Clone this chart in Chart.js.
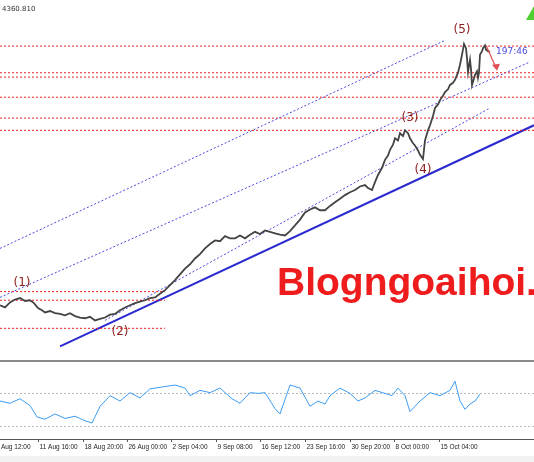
<!DOCTYPE html>
<html><head><meta charset="utf-8">
<script src="https://cdn.jsdelivr.net/npm/chart.js@4"></script>
<style>
body{margin:0;background:#fff;width:534px;height:462px;overflow:hidden;font-family:"DejaVu Sans",sans-serif}
#c1{position:absolute;left:0;top:0}
#c2{position:absolute;left:0;top:363px}
#sep{position:absolute;left:0;top:360px;width:534px;height:2px;background:#8a8a8a}
</style></head><body>
<canvas id="c1" width="534" height="360"></canvas>
<div id="sep"></div>
<canvas id="c2" width="534" height="99"></canvas>
<script>
// bar position and close price
var bars = [0,5,10,15,20,25,30,34,38,42,45,50,55,60,65,70,75,80,85,90,95,100,105,110,115,120,125,130,135,140,145,150,155,160,165,170,175,180,185,190,195,200,205,210,215,220,225,230,235,240,245,250,255,260,265,270,275,280,285,290,295,300,305,310,315,320,325,330,335,340,345,350,355,360,365,368,372,375,378,382,385,388,390,393,395,398,400,403,405,408,410,413,415,418,420,423,425,428,430,433,435,438,440,443,445,448,450,453,455,458,460,462,463,464,466,467,468,469,470,471,472,474,475,477,478,479,480,482,483,485,486,488,490];
var prices = [3947,3944,3951,3955,3957,3953,3954,3950,3943,3940,3937,3939,3936,3935,3933,3936,3932,3930,3929,3931,3926,3928,3930,3934,3935,3940,3944,3947,3950,3952,3954,3957,3958,3963,3968,3975,3982,3990,3998,4004,4012,4018,4026,4032,4037,4036,4043,4040,4040,4044,4040,4045,4049,4046,4051,4049,4047,4045,4044,4050,4058,4066,4076,4080,4083,4079,4079,4085,4090,4095,4100,4104,4107,4112,4114,4110,4107,4118,4128,4138,4149,4155,4163,4170,4179,4176,4186,4182,4190,4186,4179,4172,4169,4162,4156,4150,4176,4190,4197,4210,4221,4226,4232,4238,4243,4247,4253,4256,4260,4270,4281,4295,4302,4310,4304,4290,4271,4280,4288,4275,4253,4262,4267,4272,4263,4270,4295,4300,4304,4308,4302,4300,4299];
// red horizontal levels [price, fromBar, toBar]
var levels = [[4307,0,534],[4270,0,534],[4264,0,534],[4236,0,534],[4207,0,534],[4190,0,534],[3966,0,165],[3954,0,165],[3915,0,165]];
// channel lines [x1,p1,x2,p2,dashed]
var channels = [[0,4026,445,4315,true],[0,3958,530,4285,true],[105,3926,490,4221,true],[60,3890,534,4197,false]];
// wave labels
var waveNames = ["(1)","(2)","(3)","(4)","(5)"];
var waveBars = [22,120,410,423,462];
var wavePrices = [3978,3910,4207,4135,4330];
// oscillator
var oscBars = [0,10,20,30,37,45,55,65,75,85,92,100,110,120,130,140,150,165,175,185,190,200,210,220,232,240,250,258,265,275,280,290,300,310,318,325,330,340,350,358,365,375,385,392,398,405,410,420,430,440,450,455,460,465,470,475,480];
var oscValues = [50,47,53,44,29,26,33,27,30,24,21,43,57,50,61,54,66,69,71,67,57,64,61,67,53,47,61,60,61,40,33,71,67,43,50,46,57,67,60,50,54,64,60,57,67,57,36,50,61,57,64,76,50,39,46,50,59];
var tickBars = [-6,38,83,127,171,216,260,305,350,394,439];
var tickLabels = ["4 Aug 12:00","11 Aug 16:00","18 Aug 20:00","26 Aug 00:00","2 Sep 04:00","9 Sep 08:00","16 Sep 12:00","23 Sep 16:00","30 Sep 20:00","8 Oct 00:00","15 Oct 04:00"];

var ds = [];
ds.push({data: bars.map(function(b,i){return {x:b,y:prices[i]};}), borderColor:'#444', borderWidth:1.8, pointRadius:0, tension:0});
levels.forEach(function(l){
  ds.push({data:[{x:l[1],y:l[0]},{x:l[2],y:l[0]}], borderColor:'#f02020', borderWidth:1, borderDash:[2,2], pointRadius:0});
});
channels.forEach(function(c){
  ds.push({data:[{x:c[0],y:c[1]},{x:c[2],y:c[3]}], borderColor:c[4]?'#4a4ae0':'#2a2ad0', borderWidth:c[4]?1:2, borderDash:c[4]?[2,2]:[], pointRadius:0});
});

var textPlugin = {
  id:'txt',
  afterDatasetsDraw:function(chart){
    var ctx = chart.ctx, xs = chart.scales.x, ys = chart.scales.y;
    ctx.save();
    ctx.font = 'bold 39px "Liberation Sans", Arial, sans-serif';
    ctx.fillStyle = '#ee1c1c';
    ctx.textBaseline = 'middle';
    ctx.fillText('Blogngoaihoi.c', xs.getPixelForValue(277), ys.getPixelForValue(3976));
    ctx.font = '12px "DejaVu Sans", sans-serif';
    ctx.fillStyle = '#8b1c1c';
    ctx.textAlign = 'center';
    waveNames.forEach(function(n,i){ ctx.fillText(n, xs.getPixelForValue(waveBars[i]), ys.getPixelForValue(wavePrices[i])); });
    ctx.textAlign = 'left';
    ctx.font = '9px "DejaVu Sans", sans-serif';
    ctx.fillStyle = '#4a4ae0';
    ctx.fillText('197:46', xs.getPixelForValue(496), ys.getPixelForValue(4299));
    ctx.fillStyle = '#333';
    ctx.font = '7px "DejaVu Sans", sans-serif';
    ctx.fillText('4360.810', 2, 9);
    // arrow
    ctx.strokeStyle = '#e05050'; ctx.fillStyle = '#e05050'; ctx.lineWidth = 1.2;
    var ax1 = xs.getPixelForValue(486), ay1 = ys.getPixelForValue(4308), ax2 = xs.getPixelForValue(496), ay2 = ys.getPixelForValue(4277);
    ctx.beginPath(); ctx.moveTo(ax1,ay1); ctx.lineTo(ax2,ay2); ctx.stroke();
    ctx.beginPath(); ctx.moveTo(ax2+1,ay2+3); ctx.lineTo(ax2-4,ay2-3); ctx.lineTo(ax2+4,ay2-4); ctx.closePath(); ctx.fill();
    // green marker
    ctx.fillStyle = '#4fcf2f';
    ctx.beginPath(); ctx.moveTo(526,20); ctx.lineTo(534,6); ctx.lineTo(534,20); ctx.closePath(); ctx.fill();
    ctx.restore();
  }
};

new Chart(document.getElementById('c1'), {
  type:'line',
  data:{datasets:ds},
  options:{
    responsive:false, animation:false, events:[],
    layout:{padding:0},
    plugins:{legend:{display:false}, tooltip:{enabled:false}},
    scales:{
      x:{type:'linear', min:0, max:534, display:false},
      y:{min:3871, max:4371, display:false}
    }
  },
  plugins:[textPlugin]
});

var axisPlugin = {
  id:'ax',
  beforeDraw:function(chart){
    var ctx = chart.ctx, a = chart.chartArea;
    ctx.save();
    ctx.fillStyle = '#f2f2f2'; ctx.fillRect(0, 93, 534, 6);
    ctx.strokeStyle = '#555'; ctx.lineWidth = 1;
    ctx.beginPath(); ctx.moveTo(0,a.bottom+0.5); ctx.lineTo(534,a.bottom+0.5); ctx.stroke();
    ctx.strokeStyle = '#bbb'; ctx.setLineDash([2,2]);
    [60,17].forEach(function(v){ var y = Math.round(chart.scales.y.getPixelForValue(v))+0.5; ctx.beginPath(); ctx.moveTo(0,y); ctx.lineTo(534,y); ctx.stroke(); });
    ctx.setLineDash([]);
    ctx.fillStyle = '#222'; ctx.font = '6.5px "Liberation Sans", sans-serif'; ctx.textBaseline = 'top';
    tickBars.forEach(function(b,i){
      var x = Math.round(chart.scales.x.getPixelForValue(b))+0.5;
      ctx.strokeStyle = '#555';
      ctx.beginPath(); ctx.moveTo(x,a.bottom); ctx.lineTo(x,a.bottom+3); ctx.stroke();
      ctx.fillText(tickLabels[i], x+1, a.bottom+5);
    });
    ctx.restore();
  }
};

new Chart(document.getElementById('c2'), {
  type:'line',
  data:{datasets:[{data:oscBars.map(function(b,i){return {x:b,y:oscValues[i]};}), borderColor:'#3d9cf5', borderWidth:1, pointRadius:0}]},
  options:{
    responsive:false, animation:false, events:[],
    layout:{padding:{bottom:23}},
    plugins:{legend:{display:false}, tooltip:{enabled:false}},
    scales:{
      x:{type:'linear', min:0, max:534, display:false},
      y:{min:0, max:100, display:false}
    }
  },
  plugins:[axisPlugin]
});
</script>
</body></html>
